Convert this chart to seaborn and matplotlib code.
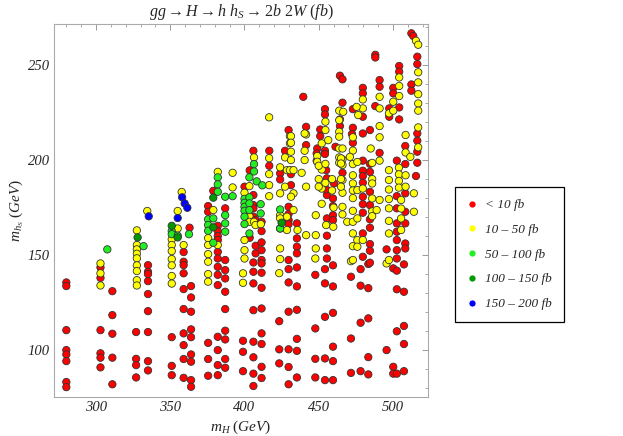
import pandas as pd
import matplotlib
matplotlib.use("Agg")
import matplotlib.pyplot as plt
from matplotlib.lines import Line2D
from matplotlib.ticker import MultipleLocator
import seaborn as sns

# m_H (GeV) and m_hS (GeV), one pair of lists per cross-section range
red_mh = ([280] * 8 + [303] * 6 + [311] * 5 + [327] * 4 + [335] * 9 + [351] * 3 + [359] * 10 + [363]
          + [364] * 9 + [375.5] * 5 + [379] + [382] * 13 + [387] * 10 + [399] * 3 + [400] + [403.5] * 2
          + [406] * 13 + [407.5] * 3 + [411.5] * 13 + [416.7] * 2 + [423.4] * 3 + [424] * 2 + [427.3]
          + [429.7] * 12 + [435.3] * 10 + [439.6] + [441.5] * 2 + [447.7] * 4 + [449] + [451] * 2
          + [454.2] * 9 + [455.5] * 6 + [459.6] * 10 + [461.3] + [464.3] * 2 + [466] * 3 + [471.7] * 3
          + [473] * 3 + [478.2] * 4 + [479.7] * 13 + [483.4] * 5 + [484.5] * 10 + [488.1] * 3 + [491] * 3
          + [495.7] * 2 + [497.5] * 2 + [500.2] * 5 + [502.6] * 12 + [504.2] * 4 + [507.4] * 5
          + [508.3] * 7 + [512.4] * 3 + [513.7] + [515.5] + [516.4] * 6
          + [464.3, 472.4, 431.3, 431.3, 448.6, 448.6, 455, 455, 460.3])
red_mhs = [135.6, 133.7, 110.5, 100, 97.7, 94.2, 83.2, 80.5,
           143.5, 138, 110.5, 98.3, 96, 90.9,
           131, 118.4, 108.6, 96, 82,
           109.5, 95.4, 92.1, 85.6,
           144.7, 141.2, 136.3, 129.5, 120.5, 109.5, 94.2, 89.3, 140,
           106.8, 91.7, 86.8,
           151.6, 146.5, 144.7, 140.4, 132.1, 121.6, 108.8, 102.6, 95.3, 85.4,
           164.4,
           133.7, 127.7, 120.2, 110.9, 106.8, 97.7, 93.9, 84.2, 80.7,
           175.8, 172.8, 103.8, 95.3, 86.5,
           183.8,
           165.4, 162.6, 160, 157.9, 151.7, 148.2, 143.8, 139.6, 134.2, 107, 100, 92.1, 86.8,
           174.6, 147.4, 142.1, 137.7, 130.7, 121.6, 110.2, 105.6, 95.3, 90.7,
           104.9, 99.1, 88.9,
           186,
           194.6, 159.1,
           204.9, 181.6, 176.3, 174.6, 170.2, 146.1, 141.2, 135.1, 121, 104.4, 96.2, 87.6, 81.1,
           168.4, 154.9, 150.9,
           167.5, 162.6, 156.7, 152.6, 147.4, 145.6, 140.7, 132.8, 121.9, 108.8, 103.2, 91.2, 85.3,
           204.9, 197,
           115.2, 100.4, 93,
           193, 189.8,
           204.9,
           215.8, 175.4, 171.6, 168.4, 166.3, 147.4, 142.6, 135.6, 120.2, 100.4, 91.1, 82,
           166.7, 158.8, 154.4, 150.9, 143.5, 133.5, 121.2, 105.9, 99.6, 85.6,
           233.3,
           217.5, 207.9,
           139.6, 111.4, 95.4, 85.6,
           206.1,
           216.1, 212.6,
           226.8, 224, 204.9, 203.2, 142.6, 135.1, 117.5, 95.6, 84.2,
           190.4, 181.6, 169.3, 160.2, 153.5, 148.2,
           179.8, 175.8, 171, 168.4, 144.6, 133.5, 119.6, 101.8, 94.2, 84.2,
           207,
           244.4, 217.9,
           242.5, 230.2, 193.3,
           138.6, 106.1, 88,
           226.8, 217, 209.1,
           142.6, 133.9, 114.4, 88.9,
           238, 235.1, 222.8, 214, 199.7, 194.4, 191.6, 188.1, 180.7, 176.8, 172.3, 161.4, 149.1,
           145.3, 132.6, 116.7, 96.3, 87.2,
           215.8, 198, 193.8, 183.3, 176.3, 168.8, 164.4, 155.8, 152.3, 146,
           255.4, 254, 228.4,
           242.1, 238.6, 203.8,
           153, 100,
           227.2, 222.8,
           238, 235.1, 143, 91.2, 87.6,
           199.7, 181, 174.6, 166.7, 162.3, 157.9, 152.6, 148.2, 141.8, 132, 109.9, 87.6,
           249.5, 246.5, 227.7, 221.4,
           145.1, 130.7, 112.7, 103.2, 88.9,
           207.4, 197.9, 182.5, 172.8, 166.7, 156.1, 153.5,
           266.7, 239.8, 236.5,
           265.3,
           191.6,
           254.4, 250.5, 214, 210.2, 204.4, 198.6,
           221.4, 213.7, 192.6, 186.8, 203.5, 199.6, 194.7, 184.6, 187.7]

yellow_mh = ([303] * 3 + [327.5] * 9 + [334.5] + [351] * 7 + [355] * 2 + [357.7] + [359] + [375.5] * 6
             + [379] + [382] * 2 + [392] * 2 + [399] * 2 + [400] * 4 + [403.3] * 3 + [406.4] * 2 + [407.4]
             + [411] + [416.6] * 5 + [423.4] + [424] * 7 + [427.3] * 2 + [428.6] * 3 + [430.6] * 3
             + [433] * 3 + [435.7] + [438.5] + [441.5] * 3 + [447.7] + [448] * 3 + [449] * 2 + [452] * 4
             + [454.5] * 2 + [455] + [456.4] + [459.8] + [460] + [463.8] * 7 + [466] * 7 + [469.2]
             + [471.7] + [473] * 12 + [476] * 5 + [479.7] * 4 + [486] * 6 + [485] + [489] + [491] * 6
             + [495.7] + [497.3] * 9 + [500.2] * 2 + [504] * 4 + [504.2] * 3 + [505.5] * 4 + [508.5] * 4
             + [511.7] + [514.1] * 2 + [515.5] + [517] * 8
             + [475.5, 476.6, 466.5, 471, 440.5, 440.5, 440.5] + [431.3] * 5 + [450] * 3
             + [454.5] * 2 + [459] * 2 + [465] * 4)
yellow_mhs = [145.6, 140.4, 134,
              163, 155.3, 153, 150.7, 148.3, 144.6, 141.6, 136.8, 134,
              173.2,
              158.3, 155.3, 152.1, 147.9, 144.6, 139, 135,
              173.2, 164,
              183.2,
              155.3,
              158.9, 155.3, 150.5, 146.5, 140, 136,
              173.7,
              193.8, 155.3,
              193.3, 185.6,
              140.4, 135.4,
              182.8, 157.9, 152.6, 148.2,
              186.3, 170.5, 167.5,
              201.4, 167.5,
              165.8,
              166.3,
              222.5, 201, 192.6, 186.8, 181,
              140.5,
              196.2, 182.5, 171, 169.3, 164, 153.5, 147.9,
              201.4, 186,
              194.7, 170.2, 163.2,
              212.6, 208.8, 194.7,
              182.5, 173.7, 194.7,
              163.2,
              193.3,
              213.5, 186, 160.5,
              148.2,
              171, 160.5, 153.5,
              202.1, 199.1,
              208.8, 195, 185, 177,
              220.2, 215.8,
              165.8,
              210.5,
              164.9,
              175,
              226, 221, 214.9, 212.3, 206.1, 201.4, 198.6,
              206.1, 200.4, 197.4, 189.5, 182.8, 175.4, 171.4,
              167.5,
              146.8,
              212, 205, 197.9, 192, 187.7, 184, 180, 173.3, 167.5, 161.4, 154.7, 147.4,
              199, 184.2, 169.3, 157.9, 154.4,
              231.9, 227.2, 185, 157.9,
              198.5, 190, 187.7, 179.8, 173, 170.5,
              206.1,
              173.7,
              233.3, 227.2, 217.9, 212, 199.7, 179,
              145.6,
              224.6, 194.7, 189.5, 184.5, 179.5, 174.6, 168, 161.4, 147.4,
              230.7, 226,
              196, 192.5, 189, 185.5,
              243.5, 239, 233.7,
              179, 174.5, 169.3, 163.2,
              213.2, 204, 192, 186,
              201.7,
              182.5, 172.8,
              262.8,
              260.7, 246.2, 240.9, 234.7, 229.8, 226, 217.2, 206.7,
              228, 223.7, 225.4, 201.7, 214, 204.9, 200,
              212.6, 209.1, 204.4, 200, 180.7,
              197, 190, 186,
              198, 188,
              190, 184,
              200.9, 198.2, 190, 186]

lgreen_mh = ([307.6, 332] + [351] * 2 + [355, 362.6] + [375.5] * 3 + [379] * 2 + [382] * 3 + [387] * 4
             + [392] + [400] * 6 + [403.3] * 5 + [406.4] * 2 + [408.2] + [410.9] * 2 + [412] + [424] * 2)
lgreen_mhs = [153, 154.7,
              162.6, 161,
              160.2, 161,
              168.8, 165.8, 162.8,
              169.3, 156.5,
              190.9, 187.2, 183.3,
              180.7, 171, 166.7, 162.3,
              181,
              179.6, 177.5, 175.4, 173.3, 170.2, 166.3,
              190.9, 180.4, 177.2, 173.7, 161.4,
              197.9, 194,
              188.8,
              176.8, 171.9,
              186.7,
              174, 164]

dgreen_mh = [328, 351, 355, 379, 379, 425]
dgreen_mhs = [159.3, 165.4, 159.3, 180.2, 164.6, 167]

blue_mh = [335.5, 355, 358, 359.7, 361.5]
blue_mhs = [170.4, 169.5, 180.4, 177.2, 174.9]

ranges = ["< 10 fb", "10 – 50 fb", "50 – 100 fb", "100 – 150 fb", "150 – 200 fb"]
colors = ["#ff0000", "#ffff00", "#22ee22", "#009a00", "#0000ff"]

frames = []
for label, xs, ys in zip(ranges,
                         [red_mh, yellow_mh, lgreen_mh, dgreen_mh, blue_mh],
                         [red_mhs, yellow_mhs, lgreen_mhs, dgreen_mhs, blue_mhs]):
    frames.append(pd.DataFrame({"mH": xs, "mhS": ys, "range": label}))
df = pd.concat(frames, ignore_index=True)

sns.set_style("white")
plt.rcParams["font.family"] = ["Liberation Serif", "DejaVu Serif"]
plt.rcParams["mathtext.fontset"] = "custom"
plt.rcParams["mathtext.rm"] = "Liberation Serif"
plt.rcParams["mathtext.it"] = "Liberation Serif:italic"

fig = plt.figure(figsize=(6.23, 4.36), dpi=100)
ax = fig.add_axes([0.0867, 0.0894, 0.6003, 0.8555])

sns.scatterplot(data=df, x="mH", y="mhS", hue="range", hue_order=ranges,
                palette=dict(zip(ranges, colors)), s=28, edgecolor="#333333",
                linewidth=0.6, legend=False, ax=ax)

ax.set_xlim(271.7, 523.6)
ax.set_ylim(75.3, 271.6)
ax.xaxis.set_major_locator(MultipleLocator(50))
ax.xaxis.set_minor_locator(MultipleLocator(10))
ax.yaxis.set_major_locator(MultipleLocator(50))
ax.yaxis.set_minor_locator(MultipleLocator(10))
ax.tick_params(which="both", direction="in", top=True, right=True, color="#999999",
               labelsize=10.5, pad=3)
ax.tick_params(which="major", length=4, width=0.7)
ax.tick_params(which="minor", length=2, width=0.6)
for lab in ax.get_xticklabels() + ax.get_yticklabels():
    lab.set_fontstyle("italic")
for sp in ax.spines.values():
    sp.set_color("#aaaaaa")
    sp.set_linewidth(0.8)

ax.set_xlabel(r"$m_H\ (GeV)$", fontsize=11, labelpad=3)
ax.set_ylabel(r"$m_{h_S}\ (GeV)$", fontsize=11, labelpad=1)
ax.set_title(r"$gg \rightarrow H \rightarrow h\ h_S \rightarrow \mathit{2b\ 2W}\ (fb)$",
             fontsize=11.5, pad=6)

handles = [Line2D([], [], marker="o", ls="", markersize=4.5, markerfacecolor=c,
                  markeredgewidth=0) for c in colors]
leg = fig.legend(handles, ranges, loc="upper left", bbox_to_anchor=(0.730, 0.571),
                 frameon=True, fancybox=False, edgecolor="black", framealpha=1,
                 prop={"family": "Liberation Serif", "style": "italic", "size": 9.5},
                 handlelength=0.8, handletextpad=0.6, labelspacing=0.95,
                 borderpad=0.9, borderaxespad=0)
leg.get_frame().set_linewidth(0.9)

fig.savefig("out.png", dpi=100)
